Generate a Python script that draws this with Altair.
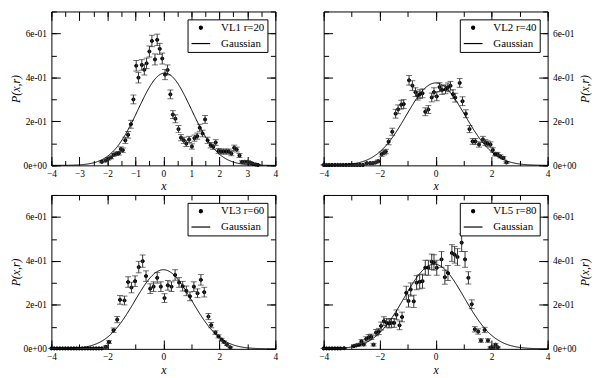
import altair as alt
import numpy as np
import pandas as pd

FONT = "Liberation Serif"

labels = ["VL1 r=20", "VL2 r=40", "VL3 r=60", "VL5 r=80"]

p1_x = [-2.2, -2.06, -1.97, -1.87, -1.78, -1.69, -1.59, -1.52, -1.45, -1.36,
        -1.26, -1.16, -1.07, -0.97, -0.89, -0.77, -0.68, -0.6, -0.5, -0.41,
        -0.3, -0.22, -0.13, -0.04, 0.06, 0.15, 0.25, 0.34, 0.43, 0.54,
        0.63, 0.73, 0.82, 0.92, 1.02, 1.11, 1.21, 1.3, 1.4, 1.49,
        1.58, 1.69, 1.78, 1.87, 1.97, 2.06, 2.15, 2.25, 2.34, 2.43,
        2.53, 2.62, 2.72, 2.81, 2.9, 3.0, 3.1, 3.2, 3.3, 3.38]
p1_y = [0.016, 0.022, 0.03, 0.036, 0.048, 0.053, 0.055, 0.074, 0.069, 0.114,
        0.139, 0.187, 0.30, 0.453, 0.399, 0.457, 0.435, 0.464, 0.518, 0.566,
        0.482, 0.571, 0.53, 0.486, 0.413, 0.434, 0.323, 0.231, 0.212, 0.165,
        0.126, 0.114, 0.099, 0.118, 0.086, 0.124, 0.133, 0.171, 0.145, 0.209,
        0.114, 0.092, 0.085, 0.104, 0.066, 0.063, 0.063, 0.063, 0.063, 0.054,
        0.080, 0.072, 0.045, 0.016, 0.016, 0.016, 0.013, 0.007, 0.004, 0.002]
p1_err = [0.004, 0.005, 0.006, 0.006, 0.007, 0.008, 0.008, 0.01, 0.01, 0.014,
          0.015, 0.018, 0.02, 0.024, 0.024, 0.024, 0.024, 0.024, 0.025, 0.026,
          0.025, 0.026, 0.025, 0.025, 0.023, 0.023, 0.02, 0.018, 0.018, 0.016,
          0.014, 0.014, 0.013, 0.014, 0.012, 0.014, 0.014, 0.016, 0.015, 0.018,
          0.014, 0.012, 0.012, 0.013, 0.011, 0.011, 0.011, 0.011, 0.011, 0.01,
          0.012, 0.011, 0.009, 0.005, 0.005, 0.005, 0.004, 0.003, 0.002, 0.002]

p2_x = [-4.0, -3.9, -3.8, -3.7, -3.6, -3.5, -3.4, -3.3, -3.2, -3.1, -3.0, -2.9, -2.8, -2.7, -2.6,
        -2.46, -2.34, -2.25, -2.15, -2.05, -1.93, -1.84, -1.78, -1.68, -1.55,
        -1.43, -1.34, -1.23, -1.14, -0.95, -0.83, -0.72, -0.64, -0.56, -0.47,
        -0.37, -0.26, -0.14, -0.06, 0.04, 0.14, 0.23, 0.35, 0.44, 0.53,
        0.62, 0.7, 0.86, 0.96, 1.08, 1.21, 1.32, 1.42, 1.55, 1.69,
        1.78, 1.86, 1.96, 2.04, 2.12, 2.21, 2.31, 2.42, 2.53]
p2_y = [0.002] * 15 + [
        0.01, 0.01, 0.01, 0.013, 0.019, 0.051, 0.058, 0.063, 0.108, 0.153,
        0.235, 0.255, 0.276, 0.279, 0.387, 0.363, 0.333, 0.317, 0.324, 0.328,
        0.244, 0.254, 0.309, 0.333, 0.314, 0.356, 0.343, 0.346, 0.355, 0.362,
        0.324, 0.308, 0.375, 0.292, 0.235, 0.165, 0.109, 0.109, 0.095, 0.118,
        0.104, 0.099, 0.095, 0.07, 0.051, 0.051, 0.041, 0.034, 0.013]
p2_err = [0.0] * 15 + [
        0.004, 0.004, 0.004, 0.005, 0.006, 0.01, 0.01, 0.01, 0.014, 0.016,
        0.02, 0.02, 0.02, 0.02, 0.022, 0.022, 0.02, 0.02, 0.02, 0.02,
        0.018, 0.018, 0.02, 0.02, 0.02, 0.02, 0.02, 0.02, 0.02, 0.02,
        0.02, 0.02, 0.02, 0.02, 0.018, 0.016, 0.013, 0.013, 0.012, 0.014,
        0.013, 0.012, 0.012, 0.01, 0.008, 0.008, 0.007, 0.006, 0.004]

p3_x = [-4.0, -3.9, -3.8, -3.7, -3.6, -3.5, -3.4, -3.3, -3.2, -3.1, -3.0, -2.9, -2.8, -2.7, -2.6,
        -2.5, -2.4, -2.3, -2.2,
        -2.06, -1.94, -1.78, -1.65, -1.55, -1.39, -1.26, -1.14, -1.01, -0.88,
        -0.74, -0.62, -0.47, -0.35, -0.22, -0.09, 0.04, 0.16, 0.29, 0.42,
        0.56, 0.69, 0.82, 0.95, 1.09, 1.22, 1.34, 1.46, 1.61, 1.71,
        1.86, 1.97, 2.08, 2.17, 2.27, 2.39]
p3_y = [0.002] * 19 + [
        0.009, 0.031, 0.085, 0.133, 0.223, 0.22, 0.304, 0.279, 0.308, 0.372,
        0.399, 0.331, 0.274, 0.283, 0.323, 0.283, 0.231, 0.289, 0.283, 0.336,
        0.302, 0.285, 0.264, 0.239, 0.283, 0.253, 0.314, 0.258, 0.147, 0.108,
        0.074, 0.057, 0.042, 0.031, 0.019, 0.007]
p3_err = [0.0] * 19 + [
        0.004, 0.006, 0.01, 0.014, 0.02, 0.02, 0.024, 0.024, 0.024, 0.026,
        0.028, 0.024, 0.022, 0.022, 0.024, 0.022, 0.02, 0.022, 0.022, 0.024,
        0.022, 0.022, 0.022, 0.02, 0.022, 0.02, 0.024, 0.022, 0.014, 0.012,
        0.008, 0.007, 0.006, 0.005, 0.004, 0.003]

p4_x = [-4.0, -3.9, -3.8, -3.7, -3.6, -3.5, -3.4,
        -3.27, -2.92, -2.83, -2.73, -2.65, -2.57, -2.48, -2.39, -2.3, -2.22,
        -2.13, -2.03, -1.95, -1.85, -1.75, -1.66, -1.58, -1.48, -1.4, -1.29,
        -1.2, -1.05, -0.97, -0.89, -0.78, -0.68, -0.57, -0.47, -0.37, -0.26,
        -0.14, -0.06, 0.04, 0.21, 0.33, 0.44, 0.58, 0.68, 0.78, 0.93,
        1.05, 1.17, 1.29, 1.4, 1.52, 1.62, 1.75, 1.87, 1.96, 2.06,
        2.14, 2.22]
p4_y = [0.002] * 7 + [
        0.003, 0.013, 0.016, 0.019, 0.034, 0.02, 0.045, 0.053, 0.055, 0.019,
        0.074, 0.079, 0.104, 0.126, 0.118, 0.115, 0.118, 0.118, 0.155, 0.107,
        0.145, 0.255, 0.218, 0.27, 0.216, 0.301, 0.305, 0.308, 0.369, 0.369,
        0.396, 0.393, 0.369, 0.407, 0.326, 0.345, 0.436, 0.428, 0.418, 0.483,
        0.407, 0.323, 0.203, 0.089, 0.079, 0.038, 0.086, 0.038, 0.006, 0.006,
        0.019, 0.007]
p4_err = [0.0] * 7 + [
        0.002, 0.004, 0.005, 0.006, 0.008, 0.006, 0.01, 0.012, 0.012, 0.006,
        0.014, 0.014, 0.018, 0.02, 0.02, 0.02, 0.02, 0.02, 0.022, 0.02,
        0.022, 0.03, 0.028, 0.03, 0.028, 0.032, 0.032, 0.032, 0.034, 0.034,
        0.035, 0.035, 0.034, 0.036, 0.032, 0.034, 0.038, 0.038, 0.038, 0.04,
        0.036, 0.028, 0.02, 0.012, 0.012, 0.008, 0.012, 0.008, 0.004, 0.004,
        0.006, 0.003]

# Gaussian fit parameters (amplitude, centre, width) per panel
gauss_amp = [0.42, 0.375, 0.36, 0.385]
gauss_mu = [0.05, 0.0, 0.0, -0.05]
gauss_sigma = [0.95, 1.05, 1.02, 1.07]

x_major = [[-4, -3, -2, -1, 0, 1, 2, 3, 4], [-4, -2, 0, 2, 4], [-4, -2, 0, 2, 4], [-4, -2, 0, 2, 4]]
x_minor = [[-4, -3.5, -3, -2.5, -2, -1.5, -1, -0.5, 0, 0.5, 1, 1.5, 2, 2.5, 3, 3.5, 4],
           [-4, -3, -2, -1, 0, 1, 2, 3, 4], [-4, -3, -2, -1, 0, 1, 2, 3, 4], [-4, -3, -2, -1, 0, 1, 2, 3, 4]]
y_major = [0, 0.2, 0.4, 0.6]
y_minor = [0, 0.1, 0.2, 0.3, 0.4, 0.5, 0.6, 0.7]

panels = [(p1_x, p1_y, p1_err), (p2_x, p2_y, p2_err), (p3_x, p3_y, p3_err), (p4_x, p4_y, p4_err)]
sides = ["left", "right", "left", "right"]

YEXPR = "replace(replace(format(datum.value, '.0e'), 'e-', 'e-0'), 'e+', 'e+0')"
W, H = 227, 156
MAJ, MIN = 9, 5


def axis(orient, values, length, show=False, title=None, lp=4, tp=2, expr=None, tsize=12):
    kw = dict(orient=orient, values=values, grid=True, gridColor="black", gridOpacity=1,
              gridWidth=1, gridDash=[length, 3000], ticks=False, domain=False, labels=show,
              title=title, minExtent=0)
    if show:
        kw.update(labelFont=FONT, labelFontSize=9.5, labelColor="black", labelPadding=lp,
                  labelFlush=False, labelOverlap=False)
        if expr:
            kw["labelExpr"] = expr
    else:
        kw.update(labelPadding=0, maxExtent=0)
    if title:
        kw.update(titleFont=FONT, titleFontSize=tsize, titleFontStyle="italic",
                  titleFontWeight="normal", titleColor="black", titlePadding=tp)
        if orient in ("left", "right"):
            kw["titleAngle"] = 270
        if orient == "right":
            kw["titleBaseline"] = "top"
    return alt.Axis(**kw)


def panel(i):
    xs_, ys_, es_ = panels[i]
    lab = labels[i]
    df = pd.DataFrame({"x": xs_, "y": ys_})
    df["lo"] = df["y"] - np.array(es_)
    df["hi"] = df["y"] + np.array(es_)
    df["series"] = lab
    gx = np.linspace(-4, 4, 401)
    gy = gauss_amp[i] * np.exp(-((gx - gauss_mu[i]) ** 2) / (2 * gauss_sigma[i] ** 2))
    gdf = pd.DataFrame({"x": gx, "y": gy})

    xsc = alt.Scale(domain=[-4, 4], nice=False, zero=False)
    ysc = alt.Scale(domain=[0, 0.7], nice=False, zero=False)
    left = sides[i] == "left"

    y_left_major = axis("left", y_major, MAJ, show=left, title="P(x,r)" if left else None,
                        lp=5, tp=1, expr=YEXPR)
    y_right_major = axis("right", y_major, MAJ, show=not left, title=None if left else "P(x,r)",
                         lp=5, tp=4, expr=YEXPR)

    leg = alt.Legend(title=None, orient="top-right", offset=8, padding=3,
                     strokeColor="black", fillColor="white", cornerRadius=0,
                     labelFont=FONT, labelFontSize=11, labelColor="black",
                     symbolStrokeWidth=1.2, rowPadding=0, labelOffset=10)
    dom = [lab, "Gaussian"]

    pts = alt.Chart(df).mark_point(opacity=1, strokeWidth=1).encode(
        x=alt.X("x:Q", scale=xsc, axis=axis("bottom", x_major[i], MAJ, show=True, title="x",
                                            lp=3, tp=3, tsize=12)),
        y=alt.Y("y:Q", scale=ysc, axis=y_left_major),
        shape=alt.Shape("series:N", scale=alt.Scale(domain=dom, range=["circle", "stroke"]), legend=leg),
        size=alt.Size("series:N", scale=alt.Scale(domain=dom, range=[10, 361]), legend=leg),
        fill=alt.Fill("series:N", scale=alt.Scale(domain=dom, range=["black", "black"]), legend=leg),
        stroke=alt.Stroke("series:N", scale=alt.Scale(domain=dom, range=["black", "black"]), legend=leg),
    )
    bars = alt.Chart(df).mark_rule(color="#333", strokeWidth=1).encode(
        x=alt.X("x:Q", scale=xsc, axis=axis("bottom", x_minor[i], MIN)),
        y=alt.Y("lo:Q", scale=ysc, axis=axis("left", y_minor, MIN)),
        y2="hi:Q",
    )
    caps = alt.Chart(df).transform_fold(["lo", "hi"], as_=["k", "v"]).mark_tick(
        color="#333", orient="horizontal", size=6, thickness=1).encode(
        x=alt.X("x:Q", scale=xsc, axis=axis("top", x_major[i], MAJ)),
        y=alt.Y("v:Q", scale=ysc, axis=y_right_major),
    )
    line = alt.Chart(gdf).mark_line(color="black", strokeWidth=1).encode(
        x=alt.X("x:Q", scale=xsc, axis=axis("top", x_minor[i], MIN)),
        y=alt.Y("y:Q", scale=ysc, axis=axis("right", y_minor, MIN)),
    )
    return alt.layer(pts, bars, caps, line).resolve_axis(x="independent", y="independent").properties(
        width=W, height=H)


def ind(c):
    return c.resolve_scale(shape="independent", size="independent", fill="independent",
                           stroke="independent").resolve_legend(
        shape="independent", size="independent", fill="independent", stroke="independent")


top = ind(alt.hconcat(panel(0), panel(1), spacing=40))
bot = ind(alt.hconcat(panel(2), panel(3), spacing=40))
chart = ind(alt.vconcat(top, bot, spacing=2)).configure_view(
    stroke="black", strokeWidth=1).properties(padding=0, background="white")

chart.save("out.html", embed_options={"renderer": "svg", "actions": False})
